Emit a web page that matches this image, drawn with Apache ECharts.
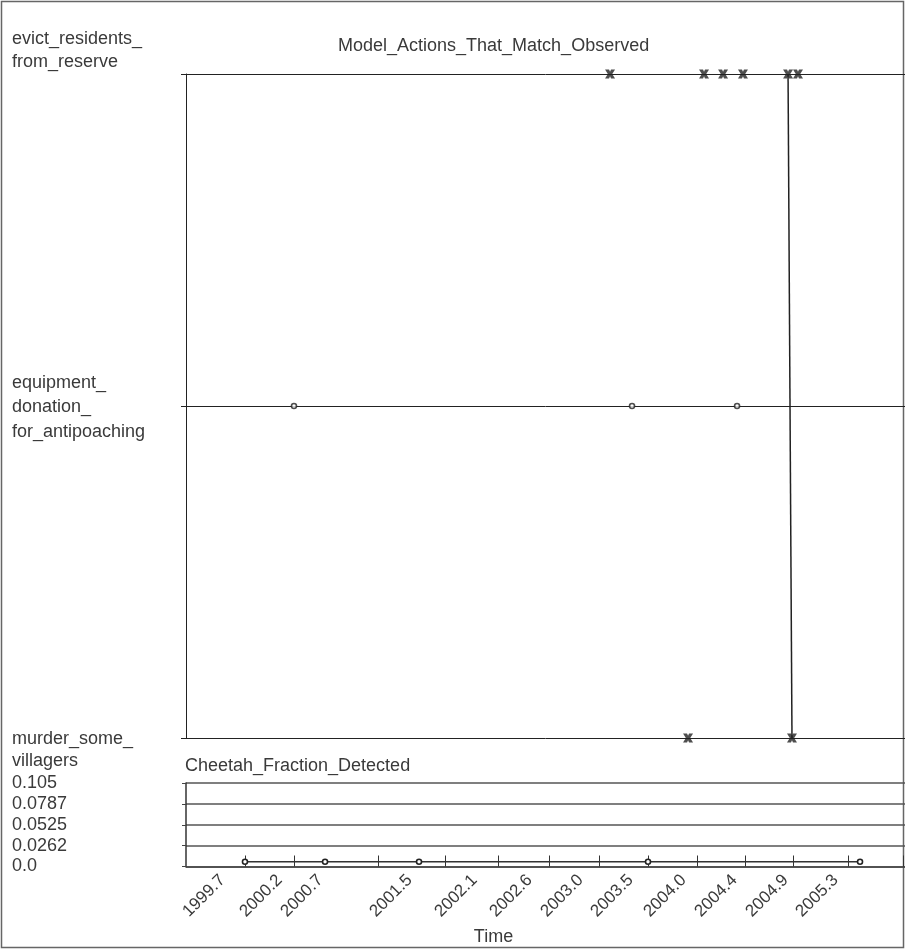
<!DOCTYPE html>
<html>
<head>
<meta charset="utf-8">
<script src="https://cdn.jsdelivr.net/npm/echarts@6/dist/echarts.min.js"></script>
<style>html,body{margin:0;padding:0;background:#fff;}#c{width:905px;height:950px;}</style>
</head>
<body>
<div id="c"></div>
<script>
// ---- data ----
const categories = ['murder_some_villagers', 'equipment_donation_for_antipoaching', 'evict_residents_from_reserve'];
const categoryLines = {
  'evict_residents_from_reserve': ['evict_residents_', 'from_reserve'],
  'equipment_donation_for_antipoaching': ['equipment_', 'donation_', 'for_antipoaching'],
  'murder_some_villagers': ['murder_some_', 'villagers']
};
const evictTimes = [2003.226, 2004.085, 2004.259, 2004.441, 2004.853, 2004.944];
const murderTimes = [2003.939, 2004.889];
const equipmentTimes = [2000.337, 2003.427, 2004.387];
const transitionTimes = [2004.853, 2004.889];
const transitionActions = ['evict_residents_from_reserve', 'murder_some_villagers'];
const cheetahTimes = [1999.889, 2000.621, 2001.480, 2003.573, 2005.511];
const cheetahValues = [0.006, 0.006, 0.006, 0.006, 0.006];
const xTickLabels = ['1999.7', '2000.2', '2000.7', '2001.5', '2002.1', '2002.6', '2003.0', '2003.5', '2004.0', '2004.4', '2004.9', '2005.3'];
const xLabelPositions = [1999.684, 2000.205, 2000.579, 2001.393, 2001.987, 2002.490, 2002.956, 2003.413, 2003.898, 2004.364, 2004.830, 2005.287];
const xTickValues = [1999.889, 2000.337, 2001.105, 2001.717, 2002.202, 2002.668, 2003.125, 2003.573, 2004.021, 2004.460, 2004.898, 2005.401, 2005.904];
const yTickLabels = ['0.0', '0.0262', '0.0525', '0.0787', '0.105'];
const xMin = 1999.35, xMax = 2005.922;
const yMax = 0.105;

// ---- chart ----
const FONT = "'Liberation Sans', Arial, sans-serif";
const TXT = '#3a3a3a';
const chart = echarts.init(document.getElementById('c'), null, {renderer: 'canvas'});
const xPath = 'path://M0,0 L4,0 L5,2.6 L6,0 L10,0 L7.2,5 L10,10 L6,10 L5,7.4 L4,10 L0,10 L2.8,5 Z';
const labelLayout = {
  'evict_residents_from_reserve': {after: 'ga', style: 't'},
  'equipment_donation_for_antipoaching': {before: 'gb', style: 'tb'},
  'murder_some_villagers': {before: 'gc', style: 't'}
};

chart.setOption({
  animation: false,
  textStyle: {fontFamily: FONT},
  title: [
    {text: 'Model_Actions_That_Match_Observed', left: 338, top: 37, padding: 0,
     textStyle: {fontSize: 18, fontWeight: 'normal', color: TXT, fontFamily: FONT}},
    {text: 'Cheetah_Fraction_Detected', left: 185, top: 757, padding: 0,
     textStyle: {fontSize: 18, fontWeight: 'normal', color: TXT, fontFamily: FONT}}
  ],
  graphic: [{
    type: 'rect', shape: {x: 1.5, y: 1.5, width: 902, height: 946},
    style: {fill: 'none', stroke: '#666', lineWidth: 1.5}, silent: true
  }],
  grid: [
    {left: 186, right: 0, top: 74, bottom: 212, containLabel: false, outerBoundsMode: 'none'},
    {left: 186, right: 0, top: 783, bottom: 83.5, containLabel: false, outerBoundsMode: 'none'}
  ],
  xAxis: [
    {type: 'value', gridIndex: 0, min: xMin, max: xMax, show: false},
    {type: 'value', gridIndex: 1, min: xMin, max: xMax,
     name: 'Time', nameLocation: 'middle', nameGap: 62,
     nameTextStyle: {fontSize: 18, color: TXT, fontFamily: FONT, padding: [0, 104, 0, 0]},
     axisLine: {show: true, lineStyle: {color: '#444', width: 1.5}},
     axisTick: {show: true, inside: true, length: 11, customValues: xTickValues, lineStyle: {color: '#333', width: 1}},
     axisLabel: {show: true, customValues: xLabelPositions, rotate: 45, margin: 11, fontSize: 17, color: TXT, fontFamily: FONT,
       formatter: v => {
         const i = xLabelPositions.findIndex(p => Math.abs(p - v) < 1e-6);
         return i >= 0 ? xTickLabels[i] : '';
       }},
     splitLine: {show: false}}
  ],
  yAxis: [
    {type: 'category', gridIndex: 0, data: categories, boundaryGap: false,
     axisLine: {show: true, lineStyle: {color: '#222', width: 1}},
     axisTick: {show: true, inside: false, length: 5, lineStyle: {color: '#222'}},
     splitLine: {show: true, lineStyle: {color: '#222', width: 1}},
     axisLabel: {show: true, align: 'left', margin: 174, interval: 0,
       formatter: function (v) {
         const L = labelLayout[v];
         const lines = categoryLines[v].map(s => '{' + L.style + '|' + s + '}');
         if (L.before) lines.unshift('{' + L.before + '| }');
         if (L.after) lines.push('{' + L.after + '| }');
         return lines.join('\n');
       },
       rich: {
         t: {fontSize: 18, lineHeight: 22.5, color: TXT, fontFamily: FONT, align: 'left'},
         tb: {fontSize: 18, lineHeight: 24.5, color: TXT, fontFamily: FONT, align: 'left'},
         ga: {fontSize: 2, lineHeight: 47},
         gb: {fontSize: 2, lineHeight: 3},
         gc: {fontSize: 2, lineHeight: 24}
       }}},
    {type: 'value', gridIndex: 1, min: 0, max: yMax, interval: yMax / 4,
     axisLine: {show: true, lineStyle: {color: '#333', width: 1.5}},
     axisTick: {show: true, inside: false, length: 4, lineStyle: {color: '#444'}},
     splitLine: {show: true, lineStyle: {color: '#555', width: 1.5}},
     axisLabel: {show: true, align: 'left', margin: 174, fontSize: 18, color: TXT, fontFamily: FONT,
       formatter: (v, i) => yTickLabels[i]}}
  ],
  series: [
    {type: 'line', xAxisIndex: 0, yAxisIndex: 0, showSymbol: false, symbol: 'none',
     lineStyle: {color: '#222', width: 1.5},
     data: transitionTimes.map((t, i) => [t, transitionActions[i]])},
    {type: 'scatter', xAxisIndex: 0, yAxisIndex: 0, symbol: xPath, symbolSize: [10, 9],
     itemStyle: {color: '#222'},
     data: evictTimes.map(t => [t, 'evict_residents_from_reserve'])},
    {type: 'scatter', xAxisIndex: 0, yAxisIndex: 0, symbol: xPath, symbolSize: [10, 9],
     itemStyle: {color: '#222'},
     data: murderTimes.map(t => [t, 'murder_some_villagers'])},
    {type: 'scatter', xAxisIndex: 0, yAxisIndex: 0, symbol: 'circle', symbolSize: 5,
     itemStyle: {color: '#fff', borderColor: '#222', borderWidth: 1.6},
     data: equipmentTimes.map(t => [t, 'equipment_donation_for_antipoaching'])},
    {type: 'line', xAxisIndex: 1, yAxisIndex: 1, symbol: 'circle', symbolSize: 5, showSymbol: true,
     lineStyle: {color: '#333', width: 1.5},
     itemStyle: {color: '#fff', borderColor: '#222', borderWidth: 1.6},
     data: cheetahTimes.map((t, i) => [t, cheetahValues[i]])}
  ]
});
</script>
</body>
</html>
